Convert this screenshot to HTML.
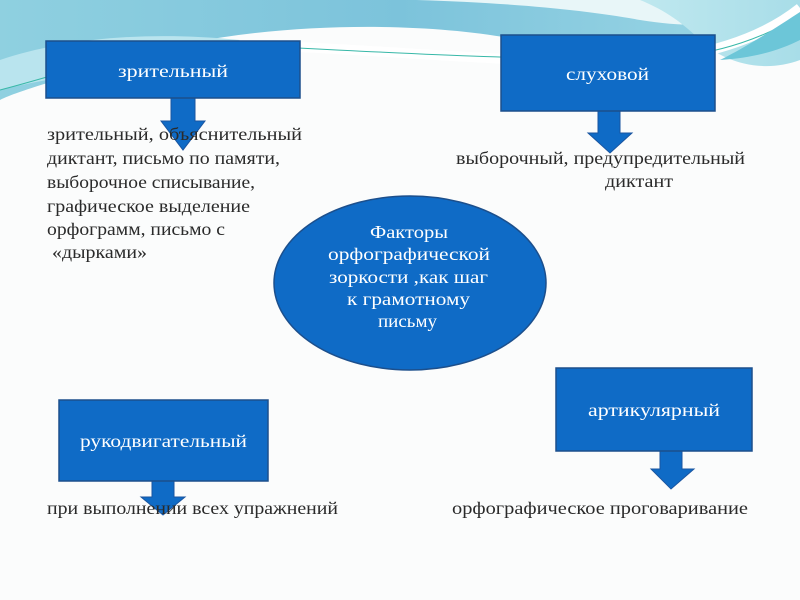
<!DOCTYPE html>
<html><head><meta charset="utf-8"><style>
html,body{margin:0;padding:0;background:#fff;}
svg{display:block}
.t{font-family:"Liberation Serif","Noto Serif CJK SC",serif;font-size:17.5px;fill:#2a2a2a}
.w{font-family:"Liberation Serif","Noto Serif CJK SC",serif;font-size:17.5px;fill:#fff}
</style></head><body>
<svg width="800" height="600" viewBox="0 0 800 600" xmlns="http://www.w3.org/2000/svg">
<defs>
<linearGradient id="g1" x1="0" y1="0" x2="1" y2="0">
<stop offset="0" stop-color="#8fd0e0"/><stop offset="0.5" stop-color="#7cc3db"/><stop offset="1" stop-color="#9ed8e6"/>
</linearGradient>
<linearGradient id="g2" x1="0" y1="0" x2="1" y2="0">
<stop offset="0" stop-color="#bfe8ef"/><stop offset="1" stop-color="#a8dde8"/>
</linearGradient>
</defs>
<rect width="800" height="600" fill="#fbfcfc"/>
<path d="M0 0 H800 V5 C700 60 620 60 520 40 C420 20 250 20 120 60 C60 80 20 90 0 100 Z" fill="url(#g1)"/>
<path d="M0 60 C60 40 140 30 240 40 L180 60 C100 70 40 80 0 90 Z" fill="#b9e4ee"/>
<path d="M230 0 H800 V5 C760 25 700 30 640 20 C560 5 420 -5 230 0 Z" fill="#e8f6f8"/>
<path d="M640 0 H800 V60 C760 75 720 60 700 40 C680 20 660 8 640 0 Z" fill="url(#g2)"/>
<path d="M250 45 C400 50 520 65 640 60 C700 58 760 40 800 8" stroke="#fff" stroke-width="10" fill="none"/>
<path d="M180 42 C350 50 520 62 660 58 C720 55 770 35 800 15" stroke="#38b8a8" stroke-width="1" fill="none"/>
<path d="M0 90 C40 80 100 60 180 42" stroke="#38b8a8" stroke-width="1" fill="none"/>
<path d="M720 60 C750 45 780 25 800 12 V40 C780 50 755 58 720 60 Z" fill="#6cc6d8"/>

<g fill="#0f6bc6" stroke="#1a55a0" stroke-width="1">
<path d="M171 98 H195 V121 H205 L183 150 L161 121 H171 Z"/>
<path d="M598 111 H620 V133 H632 L610 153 L588 133 H598 Z"/>
<path d="M152 481 H174 V497 H185 L163 515 L141 497 H152 Z"/>
<path d="M660 451 H682 V469 H694 L671 489 L651 469 H660 Z"/>
</g>

<g fill="#0f6bc6" stroke="#1c4f8c" stroke-width="1.5">
<rect x="46" y="41" width="254" height="57"/>
<rect x="501" y="35" width="214" height="76"/>
<rect x="59" y="400" width="209" height="81"/>
<rect x="556" y="368" width="196" height="83"/>
<ellipse cx="410" cy="283" rx="136" ry="87"/>
</g>
<text class="w" x="118" y="77" textLength="110" lengthAdjust="spacingAndGlyphs">зрительный</text>
<text class="w" x="566" y="80" textLength="83" lengthAdjust="spacingAndGlyphs">слуховой</text>
<text class="w" x="80" y="447" textLength="167" lengthAdjust="spacingAndGlyphs">рукодвигательный</text>
<text class="w" x="588" y="416" textLength="132" lengthAdjust="spacingAndGlyphs">артикулярный</text>
<text class="w" x="370" y="238" textLength="78" lengthAdjust="spacingAndGlyphs">Факторы</text>
<text class="w" x="328" y="260" textLength="162" lengthAdjust="spacingAndGlyphs">орфографической</text>
<text class="w" x="329" y="283" textLength="159" lengthAdjust="spacingAndGlyphs">зоркости ,как шаг</text>
<text class="w" x="347" y="305" textLength="123" lengthAdjust="spacingAndGlyphs">к грамотному</text>
<text class="w" x="378" y="327" textLength="59" lengthAdjust="spacingAndGlyphs">письму</text>

<text class="t" x="47" y="140" textLength="255" lengthAdjust="spacingAndGlyphs">зрительный, объяснительный</text>
<text class="t" x="47" y="164" textLength="233" lengthAdjust="spacingAndGlyphs">диктант, письмо по памяти,</text>
<text class="t" x="47" y="188" textLength="208" lengthAdjust="spacingAndGlyphs">выборочное списывание,</text>
<text class="t" x="47" y="212" textLength="203" lengthAdjust="spacingAndGlyphs">графическое выделение</text>
<text class="t" x="47" y="235" textLength="178" lengthAdjust="spacingAndGlyphs">орфограмм, письмо с</text>
<text class="t" x="52" y="258" textLength="95" lengthAdjust="spacingAndGlyphs">«дырками»</text>
<text class="t" x="456" y="164" textLength="289" lengthAdjust="spacingAndGlyphs">выборочный, предупредительный</text>
<text class="t" x="605" y="187" textLength="68" lengthAdjust="spacingAndGlyphs">диктант</text>
<text class="t" x="47" y="514" textLength="291" lengthAdjust="spacingAndGlyphs">при выполнении всех упражнений</text>
<text class="t" x="452" y="514" textLength="296" lengthAdjust="spacingAndGlyphs">орфографическое  проговаривание</text>
</svg>
</body></html>
